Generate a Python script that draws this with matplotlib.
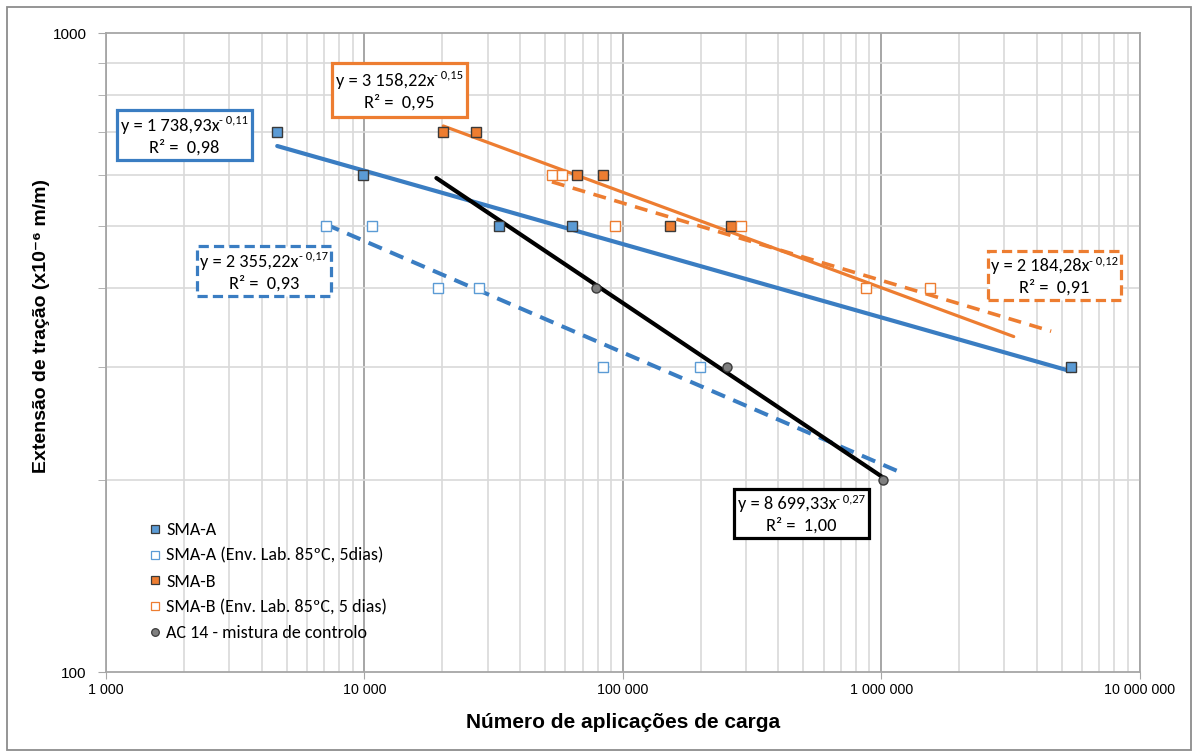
import numpy as np
import matplotlib
matplotlib.use('Agg')
import matplotlib.pyplot as plt
from matplotlib import font_manager as fm
from matplotlib.patches import Rectangle
from matplotlib.lines import Line2D
from matplotlib.ticker import FixedLocator, FuncFormatter, NullFormatter


def pick(*names):
    avail = {f.name for f in fm.fontManager.ttflist}
    for n in names:
        if n in avail:
            return n
    return 'DejaVu Sans'


ARIAL = pick('Liberation Sans', 'Arial')
NARROW = pick('Liberation Sans Narrow', 'Arial Narrow', 'Liberation Sans')
CALIBRI = pick('Carlito', 'Calibri', 'Lato', 'Open Sans')

# ---------------- data ----------------
smaA_x = [4600, 9900, 33100, 63600, 5410000]
smaA_y = [700, 600, 500, 500, 300]
smaA_env_x = [7080, 10670, 19220, 27840, 83800, 198900]
smaA_env_y = [500, 500, 400, 400, 300, 300]
smaB_x = [20200, 27100, 66500, 83600, 152300, 261600]
smaB_y = [700, 700, 600, 600, 500, 500]
smaB_env_x = [53200, 58300, 93500, 286800, 871000, 1545000]
smaB_env_y = [600, 600, 500, 500, 400, 400]
ac14_x = [78500, 252500, 1019000]
ac14_y = [400, 300, 200]

# trendline x-extents (incl. forecast)
smaA_trend = (4600, 5410000)
smaA_env_trend = (7080, 1200000)
smaB_trend = (20200, 3260000)
smaB_env_trend = (53200, 4550000)
ac14_trend = (19000, 1019000)

legend_labels = ['SMA-A', 'SMA-A (Env. Lab. 85ºC, 5dias)', 'SMA-B',
                 'SMA-B (Env. Lab. 85ºC, 5 dias)', 'AC 14 - mistura de controlo']

eq_coef = ['1 738,93', '3 158,22', '2 355,22', '2 184,28', '8 699,33']
eq_exp = ['0,11', '0,15', '0,17', '0,12', '0,27']
eq_r2 = ['0,98', '0,95', '0,93', '0,91', '1,00']

x_ticks = [1e3, 1e4, 1e5, 1e6, 1e7]
y_ticks = [100, 1000]

# ---------------- style ----------------
BLUE_L = '#3A7DC2'
BLUE_M = '#5B9BD5'
ORANGE = '#ED7D31'
GRAYM = '#7F7F7F'
EDGE = '#3A3A3A'

W, H = 1194, 753
fig = plt.figure(figsize=(W / 100, H / 100), dpi=100)
ax = fig.add_axes([106 / W, 1 - 672.3 / H, 1033.5 / W, 639 / H])
ax.set_xscale('log')
ax.set_yscale('log')
ax.set_xlim(1e3, 1e7)
ax.set_ylim(100, 1000)


def trend(xs, ys, ext):
    m, b = np.polyfit(np.log(xs), np.log(ys), 1)
    xx = np.geomspace(ext[0], ext[1], 100)
    return xx, np.exp(b) * xx ** m


# trendlines
xx, yy = trend(smaA_x, smaA_y, smaA_trend)
ax.plot(xx, yy, color=BLUE_L, lw=3.0, zorder=2, solid_capstyle='round')
xx, yy = trend(smaA_env_x, smaA_env_y, smaA_env_trend)
ax.plot(xx, yy, color=BLUE_L, lw=2.9, ls=(0, (3.6, 2.2)), zorder=2)
xx, yy = trend(smaB_x, smaB_y, smaB_trend)
ax.plot(xx, yy, color=ORANGE, lw=2.3, zorder=2, solid_capstyle='round')
xx, yy = trend(smaB_env_x, smaB_env_y, smaB_env_trend)
ax.plot(xx, yy, color=ORANGE, lw=2.6, ls=(0, (3.6, 2.4)), zorder=2)
xx, yy = trend(ac14_x, ac14_y, ac14_trend)
ax.plot(xx, yy, color='black', lw=3.0, zorder=2, solid_capstyle='round')

# markers
ms = 6.5
ax.plot(smaA_x, smaA_y, ls='none', marker='s', ms=ms, mfc=BLUE_M, mec=EDGE, mew=1.0, zorder=3)
ax.plot(smaA_env_x, smaA_env_y, ls='none', marker='s', ms=ms, mfc='white', mec=BLUE_M, mew=1.0, zorder=3)
ax.plot(smaB_x, smaB_y, ls='none', marker='s', ms=ms, mfc=ORANGE, mec=EDGE, mew=1.0, zorder=3)
ax.plot(smaB_env_x, smaB_env_y, ls='none', marker='s', ms=ms, mfc='white', mec=ORANGE, mew=1.0, zorder=3)
ax.plot(ac14_x, ac14_y, ls='none', marker='o', ms=ms, mfc=GRAYM, mec=EDGE, mew=1.0, zorder=3)

# grid / axes
ax.xaxis.set_major_locator(FixedLocator(x_ticks))
ax.xaxis.set_major_formatter(FuncFormatter(lambda v, p: f"{int(round(v)):,}".replace(',', ' ')))
ax.xaxis.set_minor_locator(FixedLocator([m * d for d in [1e3, 1e4, 1e5, 1e6] for m in range(2, 10)]))
ax.xaxis.set_minor_formatter(NullFormatter())
ax.yaxis.set_major_locator(FixedLocator(y_ticks))
ax.yaxis.set_major_formatter(FuncFormatter(lambda v, p: f"{int(round(v))}"))
ax.yaxis.set_minor_locator(FixedLocator(list(range(200, 1000, 100))))
ax.yaxis.set_minor_formatter(NullFormatter())

ax.grid(False)
ax.xaxis.grid(True, which='major', color='#A6A6A6', lw=1.4, zorder=0)
ax.xaxis.grid(True, which='minor', color='#D9D9D9', lw=1.2, zorder=0)
ax.yaxis.grid(True, which='minor', color='#D9D9D9', lw=1.2, zorder=0)
ax.set_axisbelow(True)
for s in ax.spines.values():
    s.set_color('#A6A6A6')
    s.set_linewidth(1.3)

ax.tick_params(axis='x', which='major', length=5, color='#A6A6A6', pad=3,
               labelsize=10.3, labelcolor='black')
ax.tick_params(axis='x', which='minor', length=0)
ax.tick_params(axis='y', which='both', length=6, color='#A6A6A6', pad=8,
               labelsize=11, labelcolor='black')
for lab in ax.get_xticklabels():
    lab.set_fontfamily(NARROW)
for lab in ax.get_yticklabels():
    lab.set_fontfamily(ARIAL)

fig.text(623 / W, 1 - 722 / H, 'Número de aplicações de carga', ha='center', va='center',
         fontsize=15, fontweight='bold', family=ARIAL)
fig.text(42 / W, 1 - 326 / H, 'Extensão de tração (x10⁻⁶ m/m)', ha='center', va='center',
         rotation=90, fontsize=14, fontweight='bold', family=[ARIAL, 'DejaVu Sans'])

# outer border
fig.add_artist(Rectangle((7 / W, 1 - 750 / H), (1191 - 7) / W, (750 - 7) / H,
                         transform=fig.transFigure, fill=False, edgecolor='#8C8C8C', lw=1.3))

# legend
handles = [
    Line2D([], [], ls='none', marker='s', ms=5.5, mfc=BLUE_M, mec=EDGE, mew=0.9),
    Line2D([], [], ls='none', marker='s', ms=5.5, mfc='white', mec=BLUE_M, mew=0.9),
    Line2D([], [], ls='none', marker='s', ms=5.5, mfc=ORANGE, mec=EDGE, mew=0.9),
    Line2D([], [], ls='none', marker='s', ms=5.5, mfc='white', mec=ORANGE, mew=0.9),
    Line2D([], [], ls='none', marker='o', ms=5.5, mfc=GRAYM, mec=EDGE, mew=0.9),
]
leg = ax.legend(handles, legend_labels, loc='upper left', bbox_to_anchor=(149 / W, 1 - 522 / H),
                bbox_transform=fig.transFigure, frameon=False, prop={'family': CALIBRI, 'size': 13},
                handlelength=0.7, handletextpad=0.25, labelspacing=0.54, borderpad=0, borderaxespad=0)
leg.set_zorder(6)

# equation boxes
renderer = fig.canvas.get_renderer()


def eqbox(x0, y0, x1, y1, color, ls, coef, expo, r2):
    fig.add_artist(Rectangle((x0 / W, 1 - y1 / H), (x1 - x0) / W, (y1 - y0) / H,
                             transform=fig.transFigure, facecolor='white', edgecolor=color,
                             lw=2.3, linestyle=ls, zorder=7))
    cx = (x0 + x1) / 2
    cy = (y0 + y1) / 2
    fs = 13.2
    t1 = fig.text(0, 0, f"y = {coef}x", fontsize=fs, family=CALIBRI, zorder=8)
    t2 = fig.text(0, 0, f"- {expo}", fontsize=fs * 0.68, family=CALIBRI, zorder=8)
    w1 = t1.get_window_extent(renderer).width
    w2 = t2.get_window_extent(renderer).width
    left = cx - (w1 + w2) / 2
    t1.set_position((left / W, 1 - (cy - 9) / H))
    t1.set_va('center')
    t2.set_position(((left + w1) / W, 1 - (cy - 15) / H))
    t2.set_va('center')
    fig.text(cx / W, 1 - (cy + 12) / H, f"R² =  {r2}", fontsize=fs, family=CALIBRI,
             ha='center', va='center', zorder=8)


dash = (0, (3.2, 1.6))
eqbox(117, 110, 252, 160, BLUE_L, '-', eq_coef[0], eq_exp[0], eq_r2[0])
eqbox(332, 63, 467, 117, ORANGE, '-', eq_coef[1], eq_exp[1], eq_r2[1])
eqbox(197, 246, 331, 296, BLUE_L, dash, eq_coef[2], eq_exp[2], eq_r2[2])
eqbox(988, 251, 1121, 300, ORANGE, dash, eq_coef[3], eq_exp[3], eq_r2[3])
eqbox(734, 489, 869, 538, 'black', '-', eq_coef[4], eq_exp[4], eq_r2[4])

fig.savefig('out.png', dpi=100)
